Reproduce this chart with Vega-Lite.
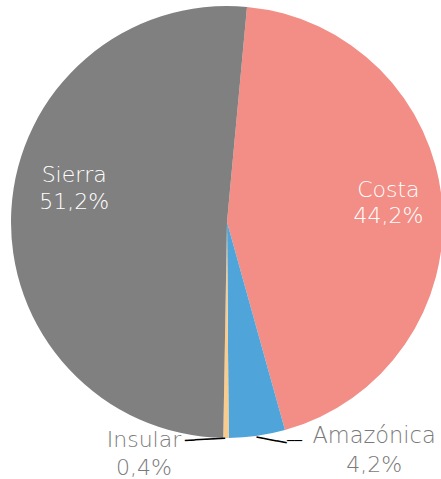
{
  "$schema": "https://vega.github.io/schema/vega-lite/v6.json",
  "width": 428,
  "height": 444,
  "autosize": "none",
  "padding": {"left": 13, "top": 0, "right": 0, "bottom": 35},
  "background": "#ffffff",
  "data": {
    "values": [
      {"region": "Costa", "pct": 0.442, "orden": 1},
      {"region": "Amazónica", "pct": 0.042, "orden": 2},
      {"region": "Insular", "pct": 0.004, "orden": 3},
      {"region": "Sierra", "pct": 0.512, "orden": 4}
    ]
  },
  "encoding": {
    "theta": {"field": "pct", "type": "quantitative", "stack": true, "scale": {"range": [0.0927, 6.3759]}},
    "order": {"field": "orden", "type": "quantitative"}
  },
  "layer": [
    {
      "mark": {"type": "arc", "outerRadius": 216},
      "encoding": {
        "color": {
          "field": "region", "type": "nominal", "legend": null,
          "scale": {"domain": ["Costa", "Amazónica", "Insular", "Sierra"], "range": ["#F28E86", "#4FA4DA", "#F8CB8E", "#808080"]}
        }
      }
    },
    {
      "mark": {"type": "text", "radius": 153, "dy": -32, "align": "center", "baseline": "alphabetic", "font": "DejaVu Sans", "fontSize": 22, "fontWeight": 200, "color": "#ffffff"},
      "encoding": {"text": {"condition": {"test": "datum.region === 'Sierra'", "field": "region", "type": "nominal"}, "value": ""}}
    },
    {
      "mark": {"type": "text", "radius": 153, "dy": -5, "align": "center", "baseline": "alphabetic", "font": "DejaVu Sans", "fontSize": 22, "fontWeight": 200, "color": "#ffffff"},
      "encoding": {"text": {"condition": {"test": "datum.region === 'Sierra'", "field": "pct", "type": "quantitative", "format": ".1%"}, "value": ""}}
    },
    {
      "mark": {"type": "text", "radius": 162, "dy": -10.5, "align": "center", "baseline": "alphabetic", "font": "DejaVu Sans", "fontSize": 22, "fontWeight": 200, "color": "#ffffff"},
      "encoding": {"text": {"condition": {"test": "datum.region === 'Costa'", "field": "region", "type": "nominal"}, "value": ""}}
    },
    {
      "mark": {"type": "text", "radius": 162, "dy": 15.5, "align": "center", "baseline": "alphabetic", "font": "DejaVu Sans", "fontSize": 22, "fontWeight": 200, "color": "#ffffff"},
      "encoding": {"text": {"condition": {"test": "datum.region === 'Costa'", "field": "pct", "type": "quantitative", "format": ".1%"}, "value": ""}}
    },
    {
      "mark": {"type": "text", "radius": 216, "dx": -82, "dy": 9, "align": "center", "baseline": "alphabetic", "font": "DejaVu Sans", "fontSize": 22, "fontWeight": 200, "color": "#7a7a7a"},
      "encoding": {"text": {"condition": {"test": "datum.region === 'Insular'", "field": "region", "type": "nominal"}, "value": ""}}
    },
    {
      "mark": {"type": "text", "radius": 216, "dx": -82, "dy": 37, "align": "center", "baseline": "alphabetic", "font": "DejaVu Sans", "fontSize": 22, "fontWeight": 200, "color": "#7a7a7a"},
      "encoding": {"text": {"condition": {"test": "datum.region === 'Insular'", "field": "pct", "type": "quantitative", "format": ".1%"}, "value": ""}}
    },
    {
      "mark": {"type": "text", "radius": 216, "dx": 117, "dy": 7, "align": "center", "baseline": "alphabetic", "font": "DejaVu Sans", "fontSize": 22.5, "fontWeight": 200, "color": "#7a7a7a"},
      "encoding": {"text": {"condition": {"test": "datum.region === 'Amazónica'", "field": "region", "type": "nominal"}, "value": ""}}
    },
    {
      "mark": {"type": "text", "radius": 216, "dx": 117, "dy": 36, "align": "center", "baseline": "alphabetic", "font": "DejaVu Sans", "fontSize": 22, "fontWeight": 200, "color": "#7a7a7a"},
      "encoding": {"text": {"condition": {"test": "datum.region === 'Amazónica'", "field": "pct", "type": "quantitative", "format": ".1%"}, "value": ""}}
    },
    {
      "mark": {"type": "text", "radius": 216, "dx": -21, "dy": 1, "angle": -3, "align": "center", "baseline": "middle", "font": "DejaVu Sans Mono", "fontSize": 16.6, "color": "#000000"},
      "encoding": {"text": {"condition": {"test": "datum.region === 'Insular'", "value": "────"}, "value": ""}}
    },
    {
      "mark": {"type": "text", "radius": 216, "dx": 15, "dy": 2, "angle": 11, "align": "center", "baseline": "middle", "font": "DejaVu Sans Mono", "fontSize": 16.9, "color": "#000000"},
      "encoding": {"text": {"condition": {"test": "datum.region === 'Amazónica'", "value": "───"}, "value": ""}}
    },
    {
      "mark": {"type": "text", "radius": 216, "dx": 37.5, "dy": 5, "align": "center", "baseline": "middle", "font": "DejaVu Sans Mono", "fontSize": 12.5, "color": "#000000"},
      "encoding": {"text": {"condition": {"test": "datum.region === 'Amazónica'", "value": "──"}, "value": ""}}
    }
  ],
  "config": {
    "view": {"stroke": null},
    "locale": {"number": {"decimal": ",", "thousands": ".", "grouping": [3], "currency": ["", " €"]}}
  }
}
